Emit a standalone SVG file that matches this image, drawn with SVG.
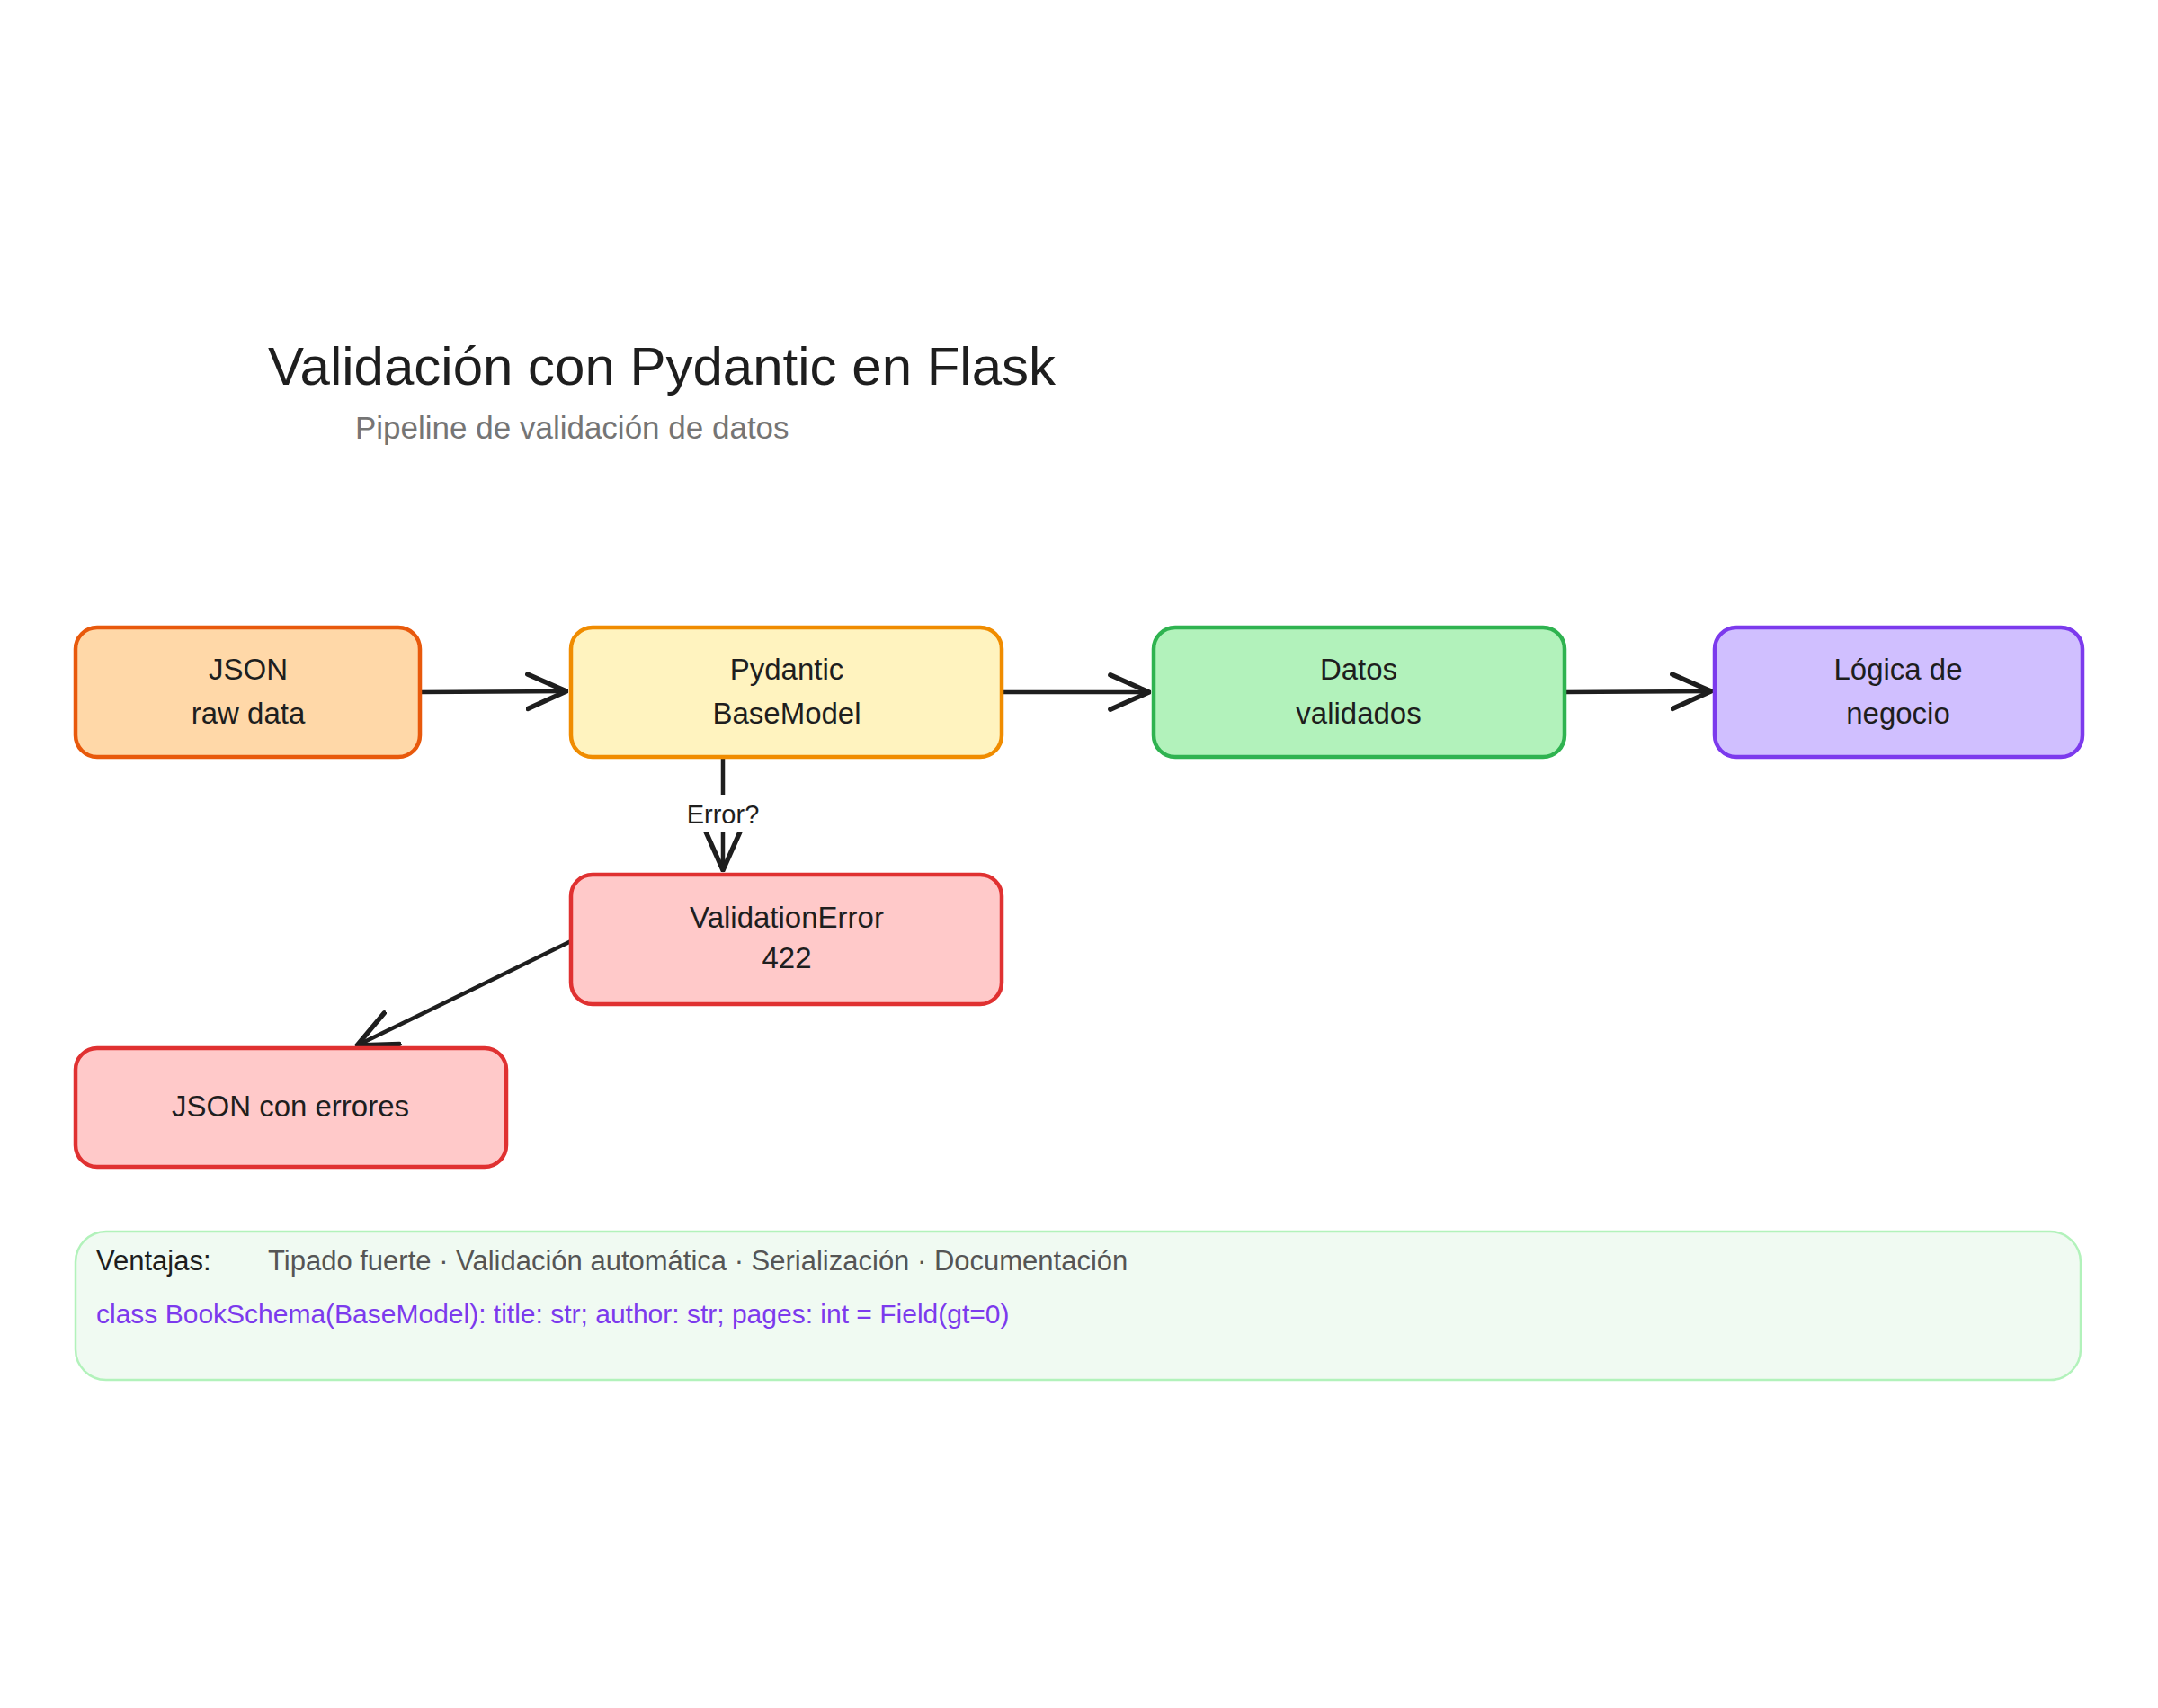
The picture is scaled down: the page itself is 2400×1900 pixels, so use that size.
<svg xmlns="http://www.w3.org/2000/svg" width="2400" height="1900" viewBox="0 0 2400 1900">
<defs>
<style>
text{font-family:"Liberation Sans","DejaVu Sans",sans-serif;fill:#1e1e1e}
.n{font-size:33px;text-anchor:middle}
.box{stroke-width:4.5}
.c{fill:none;stroke:#1e1e1e;stroke-width:4.5;stroke-linecap:round}
</style>
<marker id="ah" viewBox="0 0 20 20" refX="18" refY="10" markerWidth="20" markerHeight="20" markerUnits="userSpaceOnUse" orient="auto">
<path d="M0,0 L18,10 L0,20" fill="none" stroke="#1e1e1e" stroke-width="3" stroke-linecap="round"/>
</marker>
<marker id="ah2" viewBox="0 0 40 40" refX="38" refY="20" markerWidth="48" markerHeight="48" markerUnits="userSpaceOnUse" orient="auto">
<path d="M2,4 L38,20 L2,36" fill="none" stroke="#1e1e1e" stroke-width="4.5" stroke-linecap="round"/>
</marker>
</defs>
<rect width="2400" height="1900" fill="#ffffff"/>
<text x="298" y="428" font-size="60">Validación con Pydantic en Flask</text>
<text x="395" y="488" font-size="35" style="fill:#757575">Pipeline de validación de datos</text>

<g id="connectors">
<line class="c" x1="467" y1="770" x2="630" y2="769" marker-end="url(#ah2)"/>
<line class="c" x1="1114" y1="770" x2="1278" y2="770" marker-end="url(#ah2)"/>
<line class="c" x1="1740" y1="770" x2="1903" y2="769" marker-end="url(#ah2)"/>
<line class="c" x1="804" y1="842" x2="804" y2="968" marker-end="url(#ah2)"/>
<rect x="752" y="884" width="104" height="42" fill="#ffffff"/>
<text x="804" y="916" font-size="29" text-anchor="middle">Error?</text>
<line class="c" x1="635" y1="1047" x2="397" y2="1163" marker-end="url(#ah2)"/>
</g>

<g id="n1"><rect class="box" x="84" y="698" width="383" height="144" rx="24" fill="#ffd8a8" stroke="#e8590c"/>
<text class="n" x="276" y="756">JSON</text><text class="n" x="276" y="805">raw data</text></g>
<g id="n2"><rect class="box" x="635" y="698" width="479" height="144" rx="24" fill="#fff3bf" stroke="#f08c00"/>
<text class="n" x="875" y="756">Pydantic</text><text class="n" x="875" y="805">BaseModel</text></g>
<g id="n3"><rect class="box" x="1283" y="698" width="457" height="144" rx="24" fill="#b2f2bb" stroke="#2fb350"/>
<text class="n" x="1511" y="756">Datos</text><text class="n" x="1511" y="805">validados</text></g>
<g id="n4"><rect class="box" x="1907" y="698" width="409" height="144" rx="24" fill="#d0bfff" stroke="#7c3aed"/>
<text class="n" x="2111" y="756">Lógica de</text><text class="n" x="2111" y="805">negocio</text></g>
<g id="n5"><rect class="box" x="635" y="973" width="479" height="144" rx="24" fill="#ffc9c9" stroke="#e03131"/>
<text class="n" x="875" y="1032">ValidationError</text><text class="n" x="875" y="1077">422</text></g>
<g id="n6"><rect class="box" x="84" y="1166" width="479" height="132" rx="24" fill="#ffc9c9" stroke="#e03131"/>
<text class="n" x="323" y="1242">JSON con errores</text></g>

<g id="note"><rect x="84" y="1370" width="2230" height="165" rx="34" fill="#f0faf2" stroke="#b2f2bb" stroke-width="2.5"/>
<text x="107" y="1413" font-size="31">Ventajas:</text>
<text x="298" y="1413" font-size="31" style="fill:#555555">Tipado fuerte · Validación automática · Serialización · Documentación</text>
<text x="107" y="1472" font-size="30" style="fill:#7c3aed">class BookSchema(BaseModel): title: str; author: str; pages: int = Field(gt=0)</text></g>
</svg>
